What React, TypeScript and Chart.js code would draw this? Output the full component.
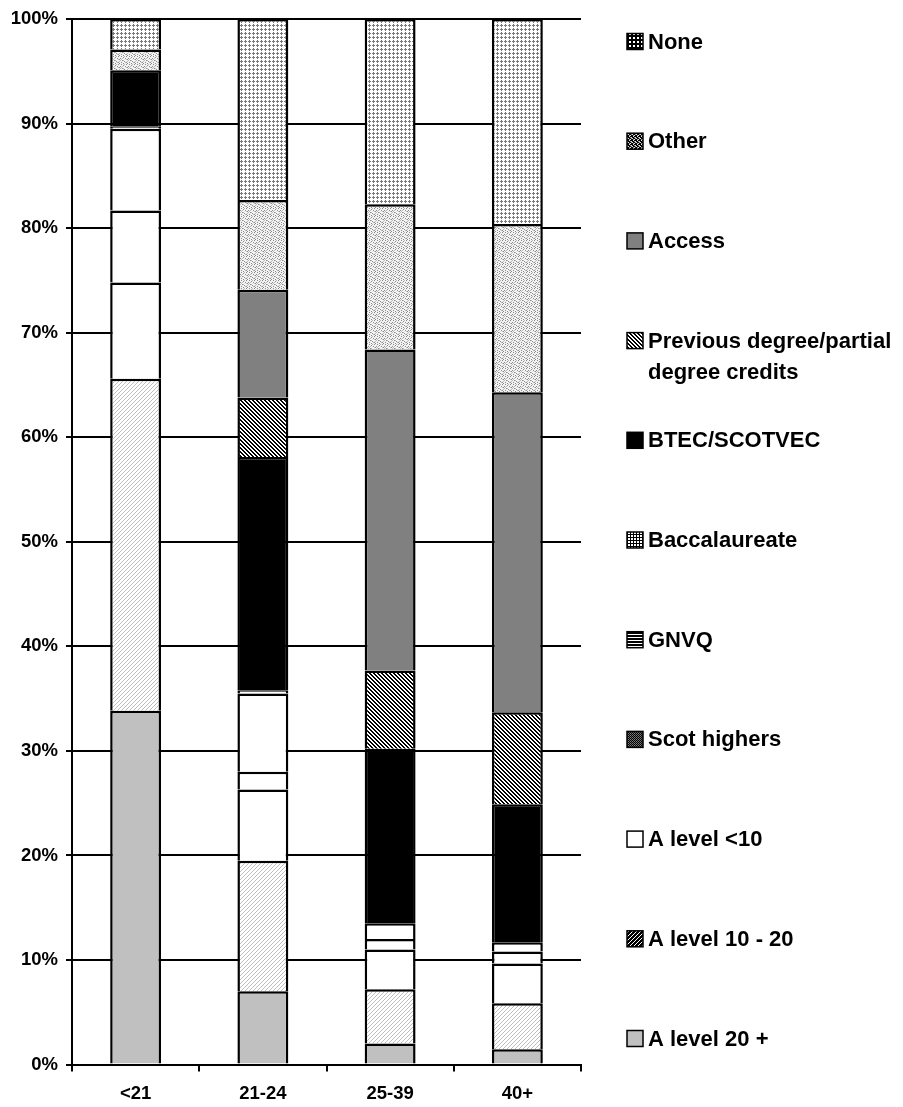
import React, { useEffect, useRef } from "react";
import { Chart, registerables } from "chart.js";

Chart.register(...registerables);

const categories = ["<21", "21-24", "25-39", "40+"];
const aLevel20Plus = [33.85, 7.0, 2.0, 1.45];
const aLevel10to20 = [31.75, 12.5, 5.2, 4.4];
const aLevelUnder10 = [9.2, 6.8, 3.8, 3.8];
const scotHighers = [6.9, 1.7, 1.0, 1.15];
const gnvq = [7.8, 7.5, 1.5, 0.9];
const baccalaureate = [0.2, 0.3, 0, 0];
const btecScotvec = [5.4, 22.3, 16.7, 13.2];
const previousDegree = [0, 5.7, 7.5, 8.8];
const access = [0, 10.3, 30.7, 30.6];
const other = [2.0, 8.6, 13.9, 16.1];
const none = [2.9, 17.3, 17.7, 19.6];

const seriesLabels = [
  "A level 20 +",
  "A level 10 - 20",
  "A level <10",
  "Scot highers",
  "GNVQ",
  "Baccalaureate",
  "BTEC/SCOTVEC",
  "Previous degree/partial degree credits",
  "Access",
  "Other",
  "None",
];
const legendLines: string[][] = [
  ["A level 20 +"],
  ["A level 10 - 20"],
  ["A level <10"],
  ["Scot highers"],
  ["GNVQ"],
  ["Baccalaureate"],
  ["BTEC/SCOTVEC"],
  ["Previous degree/partial", "degree credits"],
  ["Access"],
  ["Other"],
  ["None"],
];
const yTickLabels = ["0%", "10%", "20%", "30%", "40%", "50%", "60%", "70%", "80%", "90%", "100%"];

const FONT = '"Liberation Sans", Arial, sans-serif';

function tile(w: number, h: number, draw: (g: CanvasRenderingContext2D) => void) {
  const c = document.createElement("canvas");
  c.width = w;
  c.height = h;
  const g = c.getContext("2d") as CanvasRenderingContext2D;
  draw(g);
  return g.createPattern(c, "repeat") as CanvasPattern;
}
function px(g: CanvasRenderingContext2D, color: string, pts: number[][]) {
  g.fillStyle = color;
  for (const [x, y] of pts) g.fillRect(x, y, 1, 1);
}

function buildFills() {
  const white = "#ffffff";
  const noneBar = tile(4, 4, (g) => {
    g.fillStyle = white; g.fillRect(0, 0, 4, 4);
    px(g, "#7a7a7a", [[1, 0], [0, 1], [1, 1], [2, 1], [1, 2]]);
  });
  const otherBar = tile(8, 8, (g) => {
    g.fillStyle = "#f2f2f2"; g.fillRect(0, 0, 8, 8);
    px(g, "#8c8c8c", [[1, 0], [6, 0], [3, 1], [0, 2], [5, 2], [7, 3], [2, 4], [4, 5], [6, 6], [1, 6], [3, 7], [7, 7]]);
    px(g, "#bcbcbc", [[4, 0], [0, 4], [6, 3], [2, 2], [5, 6], [3, 4], [7, 5], [1, 3]]);
  });
  const prevHatch = tile(4, 4, (g) => {
    g.fillStyle = white; g.fillRect(0, 0, 4, 4);
    px(g, "#000000", [[0, 0], [1, 1], [2, 2], [3, 3], [1, 0], [2, 1], [3, 2], [0, 3]]);
  });
  const a1020Bar = tile(4, 4, (g) => {
    g.fillStyle = white; g.fillRect(0, 0, 4, 4);
    px(g, "#bdbdbd", [[3, 0], [2, 1], [1, 2], [0, 3]]);
  });
  const noneLeg = tile(4, 4, (g) => {
    g.fillStyle = "#000"; g.fillRect(0, 0, 4, 4);
    px(g, white, [[1, 1], [2, 1], [1, 2], [2, 2]]);
  });
  const otherLeg = tile(4, 4, (g) => {
    g.fillStyle = "#000"; g.fillRect(0, 0, 4, 4);
    px(g, "#e0e0e0", [[1, 0], [3, 1], [0, 2], [2, 3]]);
    px(g, "#909090", [[2, 1], [1, 3], [3, 2]]);
  });
  const baccLeg = tile(3, 3, (g) => {
    g.fillStyle = white; g.fillRect(0, 0, 3, 3);
    g.fillStyle = "#000"; g.fillRect(0, 0, 3, 1); g.fillRect(0, 0, 1, 3);
  });
  const gnvqLeg = tile(3, 3, (g) => {
    g.fillStyle = "#000"; g.fillRect(0, 0, 3, 3);
    g.fillStyle = white; g.fillRect(0, 1, 3, 1);
  });
  const scotLeg = tile(2, 2, (g) => {
    px(g, "#000", [[0, 0], [1, 1]]);
    px(g, "#606060", [[1, 0]]);
    px(g, "#808080", [[0, 1]]);
  });
  const a1020Leg = tile(4, 4, (g) => {
    g.fillStyle = "#000"; g.fillRect(0, 0, 4, 4);
    px(g, white, [[3, 0], [2, 1], [1, 2], [0, 3]]);
  });
  const barFills = [
    "#c0c0c0", a1020Bar, white, white, white, white, "#000000", prevHatch, "#808080", otherBar, noneBar,
  ];
  const legendFills = [
    "#c0c0c0", a1020Leg, white, scotLeg, gnvqLeg, baccLeg, "#000000", prevHatch, "#808080", otherLeg, noneLeg,
  ];
  return { barFills, legendFills };
}

export default function App() {
  const ref = useRef<HTMLCanvasElement | null>(null);
  useEffect(() => {
    if (!ref.current) return;
    const { barFills, legendFills } = buildFills();
    const seriesValues = [
      aLevel20Plus, aLevel10to20, aLevelUnder10, scotHighers, gnvq, baccalaureate,
      btecScotvec, previousDegree, access, other, none,
    ];
    const datasets = seriesValues.map((data, i) => ({
      label: seriesLabels[i],
      data,
      backgroundColor: barFills[i] as any,
      borderColor: "#000000",
      borderWidth: 2.5,
      borderSkipped: "start" as const,
      categoryPercentage: 0.8,
      barPercentage: 0.5,
    }));

    const legendPlugin = {
      id: "customLegend",
      afterDraw(chart: any) {
        const ctx = chart.ctx as CanvasRenderingContext2D;
        const area = chart.chartArea;
        const x0 = area.right + 46;
        const top = 41.5;
        const step = 99.7;
        ctx.save();
        ctx.font = "bold 22px " + FONT;
        ctx.textBaseline = "middle";
        ctx.fillStyle = "#000";
        const n = seriesLabels.length;
        for (let k = 0; k < n; k++) {
          const i = n - 1 - k;
          const cy = top + k * step;
          ctx.fillStyle = legendFills[i] as any;
          ctx.fillRect(x0, cy - 8, 16, 16);
          ctx.lineWidth = 1.5;
          ctx.strokeStyle = "#000";
          ctx.strokeRect(x0, cy - 8, 16, 16);
          ctx.fillStyle = "#000";
          legendLines[i].forEach((line, j) => {
            ctx.fillText(line, x0 + 21, cy + 1 + j * 31);
          });
        }
        ctx.restore();
      },
    };

    const chart = new Chart(ref.current, {
      type: "bar",
      data: { labels: categories, datasets },
      options: {
        animation: false,
        responsive: false,
        layout: { padding: { left: 0, right: 322, top: 17, bottom: 0 } },
        plugins: { legend: { display: false }, tooltip: { enabled: false } },
        scales: {
          x: {
            stacked: true,
            grid: {
              display: true,
              drawOnChartArea: false,
              drawTicks: true,
              tickLength: 7,
              color: "#000",
              lineWidth: 2,
              offset: true,
            },
            border: { display: true, color: "#000", width: 2 },
            ticks: {
              color: "#000",
              font: { family: FONT, size: 18.5, weight: "bold" },
              padding: 11,
            },
            afterFit: (s: any) => {
              s.height = 42.5;
            },
          },
          y: {
            stacked: true,
            min: 0,
            max: 100,
            grid: {
              color: "#000",
              lineWidth: 2,
              drawTicks: true,
              tickLength: 6,
            },
            border: { display: true, color: "#000", width: 2 },
            ticks: {
              stepSize: 10,
              color: "#000",
              font: { family: FONT, size: 18.5, weight: "bold" },
              padding: 8,
              callback: (_v: any, idx: number) => yTickLabels[idx],
            },
            afterFit: (s: any) => {
              s.width = 72;
            },
          },
        },
      } as any,
      plugins: [legendPlugin],
    });
    return () => chart.destroy();
  }, []);

  return (
    <div style={{ position: "fixed", left: 0, top: 0, width: 903, height: 1107, background: "#fff" }}>
      <canvas ref={ref} width={903} height={1107} style={{ display: "block" }} />
    </div>
  );
}
